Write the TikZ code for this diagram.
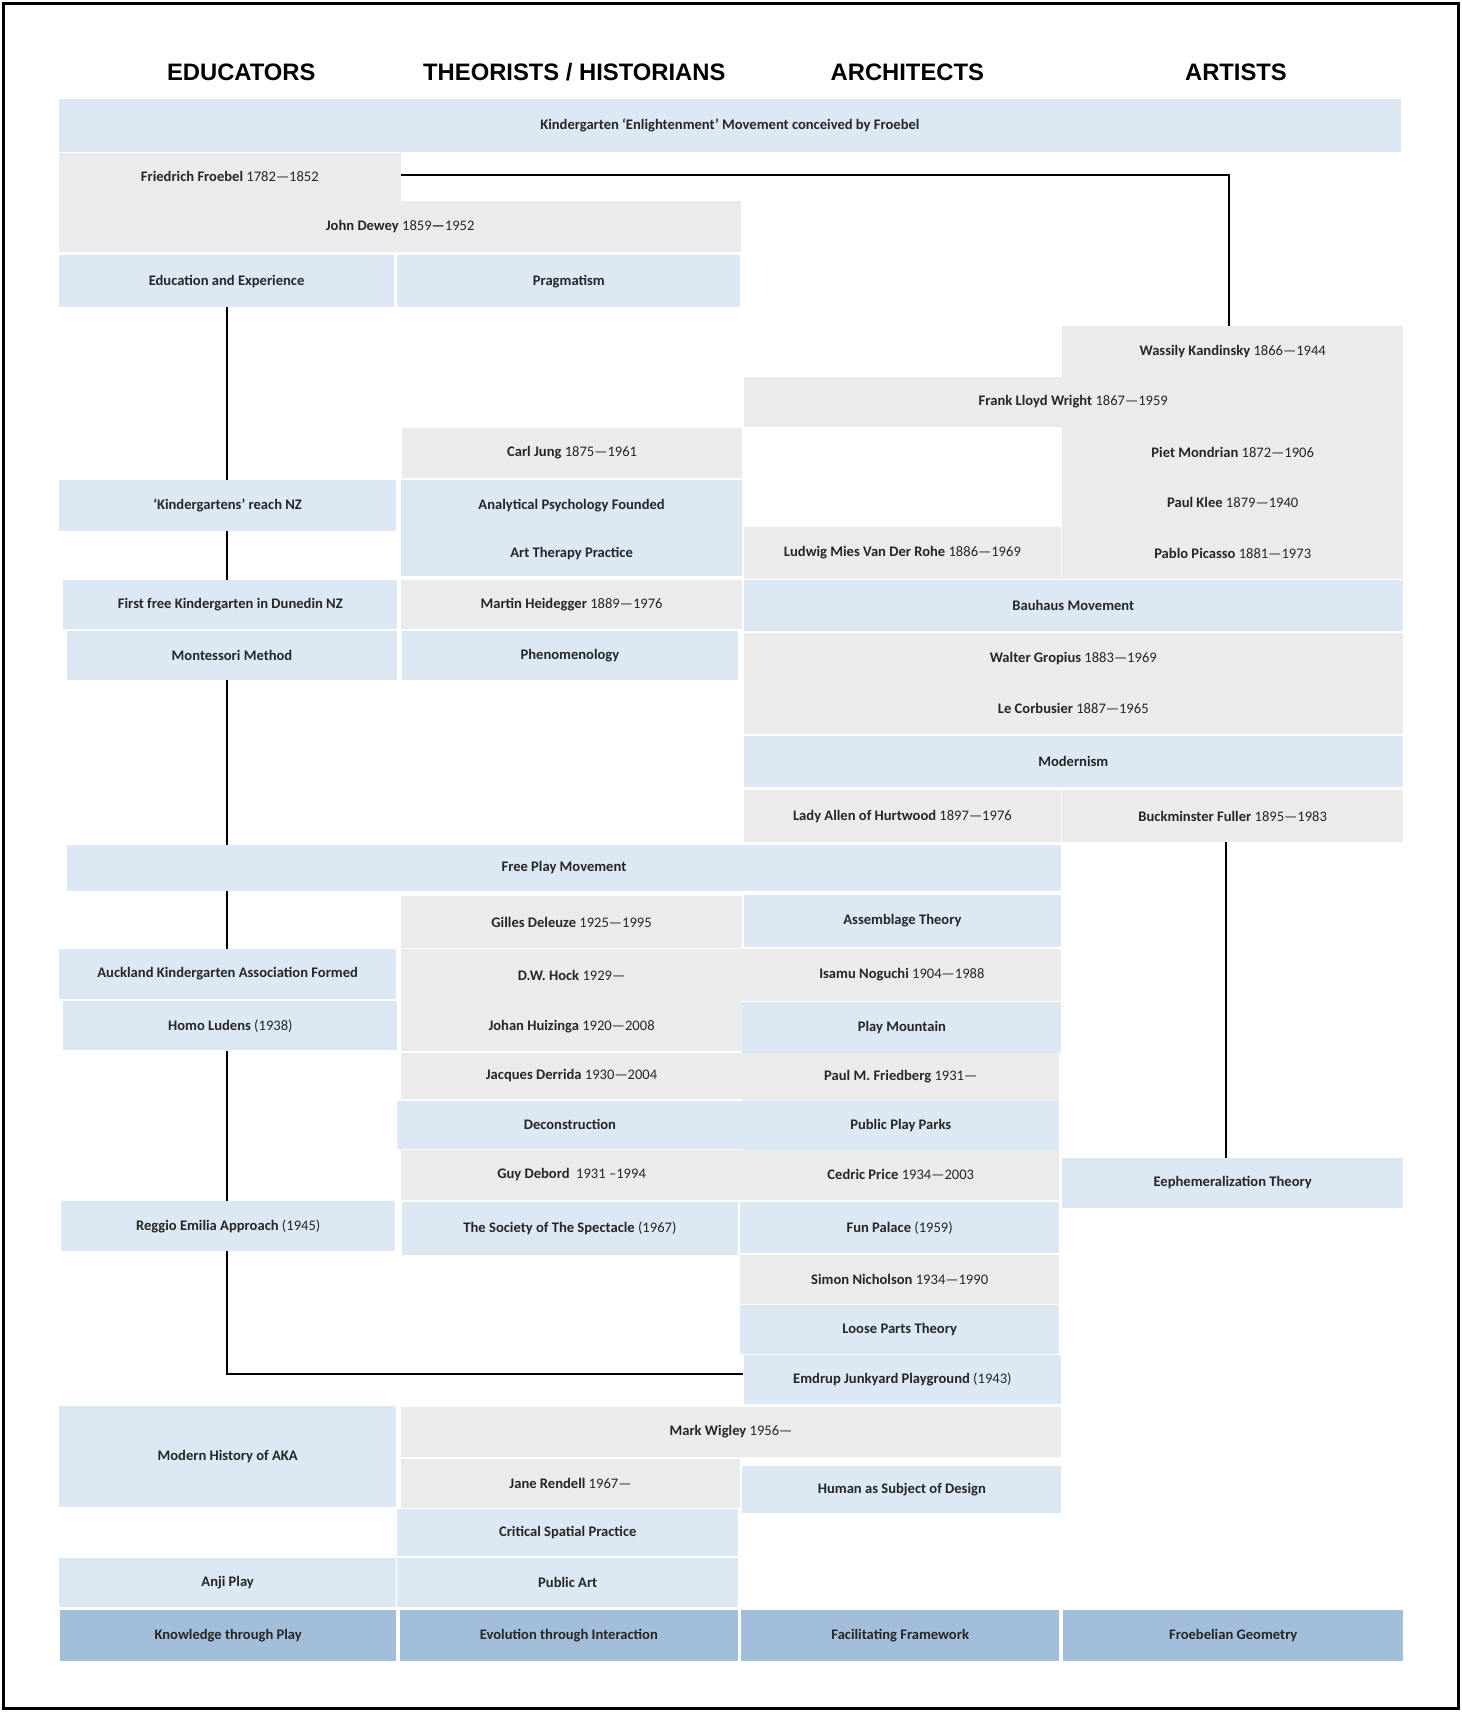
\documentclass[tikz,border=0pt]{standalone}
\usepackage{fontspec}
\setmainfont{Carlito}
\newfontfamily\hdr{Liberation Sans}
\definecolor{lb}{HTML}{DDE8F5}
\definecolor{gr}{HTML}{EBEBEB}
\definecolor{db}{HTML}{A3BEDA}
\newcommand{\B}[7]{\node[box,fill=#6,minimum width={(#4-#2)*0.05cm},minimum height={(#5-#3)*0.05cm}] (#1) at ({(#2+#4)/2},{(#3+#5)/2}) {#7};}
\begin{document}
\begin{tikzpicture}[x=0.05cm,y=-0.05cm,
 box/.style={draw=none,inner sep=0pt,font=\fontsize{19}{22}\selectfont,text=black!85},
 hd/.style={font=\hdr\bfseries\fontsize{31}{36}\selectfont},
 ln/.style={line width=2.6pt}]
\useasboundingbox (0,0) rectangle (1339,1568);
\draw[line width=4pt] (3,3) rectangle (1336,1565);
\node[hd] at (221,66) {EDUCATORS};
\node[hd] at (526,66) {THEORISTS / HISTORIANS};
\node[hd] at (831,66) {ARCHITECTS};
\node[hd] at (1132,66) {ARTISTS};
% connectors (drawn beneath boxes)
\coordinate (c1) at (1126,160);
\coordinate (e1) at (208,281);
\coordinate (e2) at (208,1258);
\coordinate (f1) at (1123,771);
\coordinate (f2) at (1123,1061);
\B{k}{54}{91}{1283}{139}{lb}{\textbf{Kindergarten ‘Enlightenment’ Movement conceived by Froebel}}
\B{fro}{54}{140}{367}{184}{gr}{\textbf{Friedrich Froebel} 1782—1852}
\B{dew}{54}{184}{679}{231}{gr}{\textbf{John Dewey} 1859\textbf{—}1952}
\B{ee}{54}{234}{361}{281}{lb}{\textbf{Education and Experience}}
\B{prag}{364}{234}{678}{281}{lb}{\textbf{Pragmatism}}
\fill[gr] (973,299) rectangle (1285,530);
\B{kan}{973}{299}{1285}{345}{gr}{\textbf{Wassily Kandinsky} 1866—1944}
\B{flw}{681}{345}{1285}{391}{gr}{\textbf{Frank Lloyd Wright} 1867—1959}
\B{jung}{368}{392}{680}{438}{gr}{\textbf{Carl Jung} 1875—1961}
\B{mon}{973}{391}{1285}{437}{gr}{\textbf{Piet Mondrian} 1872—1906}
\B{klee}{973}{437}{1285}{483}{gr}{\textbf{Paul Klee} 1879—1940}
\B{knz}{54}{440}{363}{486}{lb}{\textbf{‘Kindergartens’ reach NZ}}
\B{ap}{367}{440}{680}{486}{lb}{\textbf{Analytical Psychology Founded}}
\B{at}{367}{486}{680}{528}{lb}{\textbf{Art Therapy Practice}}
\B{mies}{681}{483}{972}{530}{gr}{\textbf{Ludwig Mies Van Der Rohe} 1886—1969}
\B{pic}{973}{483}{1285}{530}{gr}{\textbf{Pablo Picasso} 1881—1973}
\B{ffk}{58}{531}{364}{576}{lb}{\textbf{First free Kindergarten in Dunedin NZ}}
\B{hei}{367}{531}{680}{576}{gr}{\textbf{Martin Heidegger} 1889—1976}
\B{bau}{681}{531}{1285}{578}{lb}{\textbf{Bauhaus Movement}}
\B{mont}{61}{578}{364}{623}{lb}{\textbf{Montessori Method}}
\B{phen}{368}{578}{676}{623}{lb}{\textbf{Phenomenology}}
\B{grop}{681}{580}{1285}{626}{gr}{\textbf{Walter Gropius} 1883—1969}
\B{corb}{681}{626}{1285}{672}{gr}{\textbf{Le Corbusier} 1887—1965}
\B{mod}{681}{674}{1285}{721}{lb}{\textbf{Modernism}}
\B{lady}{681}{724}{972}{771}{gr}{\textbf{Lady Allen of Hurtwood} 1897—1976}
\B{ful}{973}{724}{1285}{771}{gr}{\textbf{Buckminster Fuller} 1895—1983}
\B{fpm}{61}{774}{972}{816}{lb}{\textbf{Free Play Movement}}
\B{del}{367}{821}{680}{868}{gr}{\textbf{Gilles Deleuze} 1925—1995}
\B{ass}{681}{820}{972}{867}{lb}{\textbf{Assemblage Theory}}
\B{auk}{54}{869}{363}{915}{lb}{\textbf{Auckland Kindergarten Association Formed}}
\B{hock}{367}{869}{680}{918}{gr}{\textbf{D.W. Hock} 1929—}
\B{nog}{680}{869}{972}{917}{gr}{\textbf{Isamu Noguchi} 1904—1988}
\B{hl}{58}{917}{364}{962}{lb}{\textbf{Homo Ludens} (1938)}
\B{hui}{367}{918}{680}{963}{gr}{\textbf{Johan Huizinga} 1920—2008}
\B{pm}{680}{918}{972}{964}{lb}{\textbf{Play Mountain}}
\B{der}{367}{964}{680}{1007}{gr}{\textbf{Jacques Derrida} 1930—2004}
\B{fri}{680}{964}{970}{1008}{gr}{\textbf{Paul M. Friedberg} 1931—}
\B{dec}{364}{1008}{680}{1052}{lb}{\textbf{Deconstruction}}
\B{ppp}{680}{1008}{970}{1053}{lb}{\textbf{Public Play Parks}}
\B{deb}{367}{1053}{680}{1099}{gr}{\textbf{Guy Debord}\ \ 1931 –1994}
\B{ced}{680}{1053}{970}{1099}{gr}{\textbf{Cedric Price} 1934—2003}
\B{eph}{973}{1061}{1285}{1106}{lb}{\textbf{Eephemeralization Theory}}
\B{reg}{56}{1100}{362}{1146}{lb}{\textbf{Reggio Emilia Approach} (1945)}
\B{soc}{368}{1101}{676}{1149}{lb}{\textbf{The Society of The Spectacle} (1967)}
\B{fun}{678}{1101}{970}{1148}{lb}{\textbf{Fun Palace} (1959)}
\B{sim}{678}{1149}{970}{1194}{gr}{\textbf{Simon Nicholson} 1934—1990}
\B{lpt}{678}{1195}{970}{1240}{lb}{\textbf{Loose Parts Theory}}
\B{emd}{681}{1241}{972}{1286}{lb}{\textbf{Emdrup Junkyard Playground} (1943)}
\B{aka}{54}{1288}{363}{1380}{lb}{\textbf{Modern History of AKA}}
\B{wig}{367}{1289}{972}{1334}{gr}{\textbf{Mark Wigley} 1956—}
\B{ren}{367}{1336}{678}{1381}{gr}{\textbf{Jane Rendell} 1967—}
\B{hum}{680}{1343}{972}{1386}{lb}{\textbf{Human as Subject of Design}}
\B{csp}{364}{1382}{676}{1425}{lb}{\textbf{Critical Spatial Practice}}
\B{anji}{54}{1427}{363}{1472}{lb}{\textbf{Anji Play}}
\B{pa}{364}{1427}{676}{1472}{lb}{\textbf{Public Art}}
\B{b1}{55}{1475}{363}{1521}{db}{\textbf{Knowledge through Play}}
\B{b2}{366}{1475}{676}{1521}{db}{\textbf{Evolution through Interaction}}
\B{b3}{679}{1475}{970}{1521}{db}{\textbf{Facilitating Framework}}
\B{b4}{974}{1475}{1285}{1521}{db}{\textbf{Froebelian Geometry}}
% connectors
\begin{scope}[on background layer/.style={}]
\draw[ln] (fro.east |- c1) -- (c1) -- (c1 |- kan.north);
\draw[ln] (ee.south -| e1) -- (e1 |- knz.north);
\draw[ln] (knz.south -| e1) -- (e1 |- ffk.north);
\draw[ln] (mont.south -| e1) -- (e1 |- fpm.north);
\draw[ln] (fpm.south -| e1) -- (e1 |- auk.north);
\draw[ln] (hl.south -| e1) -- (e1 |- reg.north);
\draw[ln] (reg.south -| e1) -- (e2) -- (e2 -| emd.west);
\draw[ln] (f1) -- (f2);
\end{scope}
\end{tikzpicture}
\end{document}
